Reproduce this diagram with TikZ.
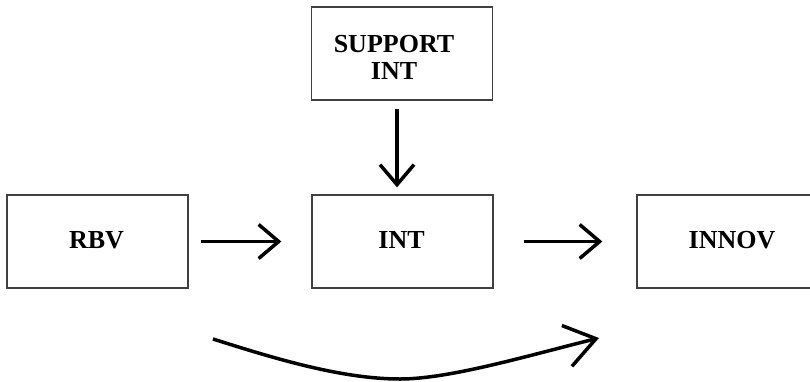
\documentclass[tikz,border=0pt]{standalone}
\usepackage{fontspec}
\setmainfont{Liberation Serif}
\usetikzlibrary{arrows.meta}
\begin{document}
\begin{tikzpicture}[x=1pt,y=-1pt,
  box/.style={draw=black!75, line width=1.3pt, minimum width=181pt, minimum height=93pt,
    inner sep=0pt},
  txt/.style={inner sep=0pt, font=\fontsize{26}{27}\selectfont\bfseries, align=center},
  arr/.style={line width=3.5pt, -{Straight Barb[length=20pt,width=34pt]}}]
\useasboundingbox (0,0) rectangle (810,381);
\node[box] (rbv) at (97.5,241.5) {};
\node[box] (int) at (402.5,241.5) {};
\node[box] (innov) at (727.5,241.5) {};
\node[box] (support) at (402,53.5) {};
\node[txt] (rbvt) at (96.5,240) {RBV};
\node[txt] (intt) at (401.5,240) {INT};
\node[txt] (innovt) at (732,240) {INNOV};
\node[txt] (supportt) at (394,57.5) {SUPPORT\\INT};
\draw[arr, shorten <=12pt, shorten >=30pt] (rbv.east) -- (int.west);
\draw[arr, shorten <=30pt, shorten >=34pt] (int.east) -- (innov.west);
\draw[arr, shorten <=8pt, shorten >=7pt] ([xshift=-5pt]support.south) -- ([xshift=-5.5pt]int.north);
\coordinate (cs) at (213,339);
\coordinate (cm) at (400,379);
\coordinate (ce) at (599,338);
\draw[line width=3.5pt, -{Straight Barb[length=30pt,width=42pt]}] (cs) .. controls (270,357) and (340,379) .. (cm) .. controls (450,379) and (530,355) .. (ce);
\end{tikzpicture}
\end{document}
